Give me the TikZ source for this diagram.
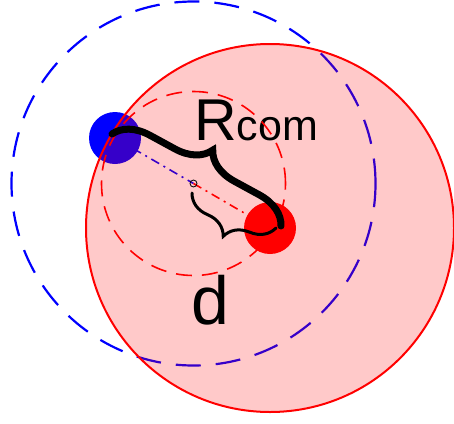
\documentclass[tikz,border=0pt]{standalone}
\usepackage{fontspec}
\setmainfont{Liberation Sans}
\usetikzlibrary{decorations.pathreplacing}
\begin{document}
\begin{tikzpicture}[x=1pt,y=-1pt,
  bluering/.style={blue, line width=2.2pt, dash pattern=on 25pt off 15pt},
  redring/.style={red, line width=1.6pt, dash pattern=on 16pt off 10pt},
  axisline/.style={line width=1.6pt, dash pattern=on 9pt off 5pt on 2pt off 5pt},
  bigbrace/.style={line width=7pt, line cap=round, decorate, decoration={brace, amplitude=34pt}},
  smallbrace/.style={line width=3pt, line cap=round, decorate, decoration={brace, mirror, amplitude=28pt}}]
\useasboundingbox (0,0) rectangle (454,423);
\coordinate (com) at (193.5,183.5);
\coordinate (bluedot) at (115,138);
\coordinate (reddot) at (270,228);
\coordinate (b1) at (112,134);
\coordinate (b2) at (281,226);
\coordinate (t1) at (192,193);
\coordinate (t2) at (276,228);
% blue parts (under the pink disc)
\draw[bluering] (com) circle[radius=182pt];
\fill[blue] (bluedot) circle[radius=26pt];
\draw[axisline, blue] (bluedot) -- (com);
% pink disc
\fill[red, fill opacity=0.21] (reddot) circle[radius=184pt];
\draw[red, line width=2pt] (reddot) circle[radius=184pt];
% labels
\node[anchor=base west, inner sep=0pt, font=\fontsize{59}{59}\selectfont] (rlabel) at (194,140) {R\fontsize{43}{43}\selectfont com};
\node[anchor=base, inner sep=0pt, font=\fontsize{68}{68}\selectfont] (dlabel) at (210,324) {d};
% red parts
\draw[redring] (com) circle[radius=92pt];
\draw[axisline, red] (com) -- (reddot);
\fill[red] (reddot) circle[radius=26pt];
\draw[black, line width=0.8pt] (com) circle[radius=3.5pt];
% braces
\draw[bigbrace] (b1) -- (b2);
\draw[smallbrace] (t1) -- (t2);
\end{tikzpicture}
\end{document}
